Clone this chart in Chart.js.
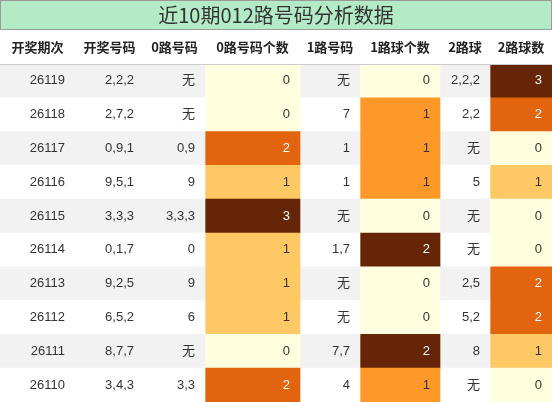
<!DOCTYPE html>
<html><head><meta charset="utf-8">
<script src="https://cdn.jsdelivr.net/npm/chart.js@4"></script>
<style>html,body{margin:0;padding:0;background:#fff}#wrap{width:552px;height:402px}</style>
</head><body><div id="wrap"><canvas id="c" width="552" height="402"></canvas></div>
<script>
const title = "近10期012路号码分析数据";
const headers = ["开奖期次","开奖号码","0路号码","0路号码个数","1路号码","1路球个数","2路球","2路球数"];
const periods = ["26119","26118","26117","26116","26115","26114","26113","26112","26111","26110"];
const draws = ["2,2,2","2,7,2","0,9,1","9,5,1","3,3,3","0,1,7","9,2,5","6,5,2","8,7,7","3,4,3"];
const zero = ["无","无","0,9","9","3,3,3","0","9","6","无","3,3"];
const zeroCnt = [0,0,2,1,3,1,1,1,0,2];
const one = ["无","7","1","1","无","1,7","无","无","7,7","4"];
const oneCnt = [0,1,1,1,0,2,0,0,2,1];
const two = ["2,2,2","2,2","无","5","无","无","2,5","5,2","8","无"];
const twoCnt = [3,2,0,1,0,0,2,2,1,0];
const colEdges = [0,75,144,205,300,360,440,490,552];

const palA = ['#ffffe0','#fec965','#e3640e','#662506'];
const palB = ['#ffffe0','#fe9929','#662506'];
const stripe = i => i%2===0 ? '#f2f2f2' : '#ffffff';
const cols = [periods,draws,zero,zeroCnt,one,oneCnt,two,twoCnt];
const bg = (c,i) => c===3 ? palA[zeroCnt[i]] : c===5 ? palB[oneCnt[i]] : c===7 ? palA[twoCnt[i]] : stripe(i);
const fg = (c,i) => {
  const v = cols[c][i];
  if (c===3||c===7) return v>=2?'#fff':'#333';
  if (c===5) return v>=2?'#fff':'#333';
  return '#333';
};
const datasets = cols.map((col,c)=>({
  data: periods.map(()=>[colEdges[c],colEdges[c+1]]),
  backgroundColor: periods.map((_,i)=>bg(c,i)),
  borderWidth:0, barPercentage:1, categoryPercentage:1, grouped:false
}));
const textPlugin = {
  id:'txt',
  afterDatasetsDraw(chart){
    const ctx = chart.ctx;
    ctx.save();
    // title band
    ctx.fillStyle='#b3ebc6'; ctx.fillRect(0,0,552,30);
    ctx.strokeStyle='#999'; ctx.lineWidth=1; ctx.strokeRect(0.5,0.5,551,29);
    ctx.fillStyle='#333'; ctx.font='20px "Noto Sans CJK SC", sans-serif';
    ctx.textAlign='center'; ctx.textBaseline='middle';
    ctx.fillText(title,276,15);
    ctx.font='bold 13px "Noto Sans CJK SC", sans-serif';
    ctx.fillStyle='#222';
    headers.forEach((h,c)=>ctx.fillText(h,(colEdges[c]+colEdges[c+1])/2,47));
    ctx.strokeStyle='#ccc'; ctx.beginPath(); ctx.moveTo(0,64.5); ctx.lineTo(552,64.5); ctx.stroke();
    ctx.font='13px "Liberation Sans", "Noto Sans CJK SC", sans-serif';
    ctx.textAlign='right';
    chart.data.datasets.forEach((ds,c)=>{
      chart.getDatasetMeta(c).data.forEach((el,i)=>{
        ctx.fillStyle=fg(c,i);
        ctx.fillText(String(cols[c][i]), Math.max(el.x,el.base)-10, el.y);
      });
    });
    ctx.restore();
  }
};
new Chart(document.getElementById('c'),{
  type:'bar',
  data:{labels:periods,datasets},
  options:{
    indexAxis:'y', responsive:false, animation:false,
    layout:{padding:{top:64,left:0,right:0,bottom:0}},
    plugins:{legend:{display:false},tooltip:{enabled:false}},
    scales:{
      x:{type:'linear',min:0,max:552,display:false},
      y:{display:false}
    }
  },
  plugins:[textPlugin]
});
</script></body></html>
